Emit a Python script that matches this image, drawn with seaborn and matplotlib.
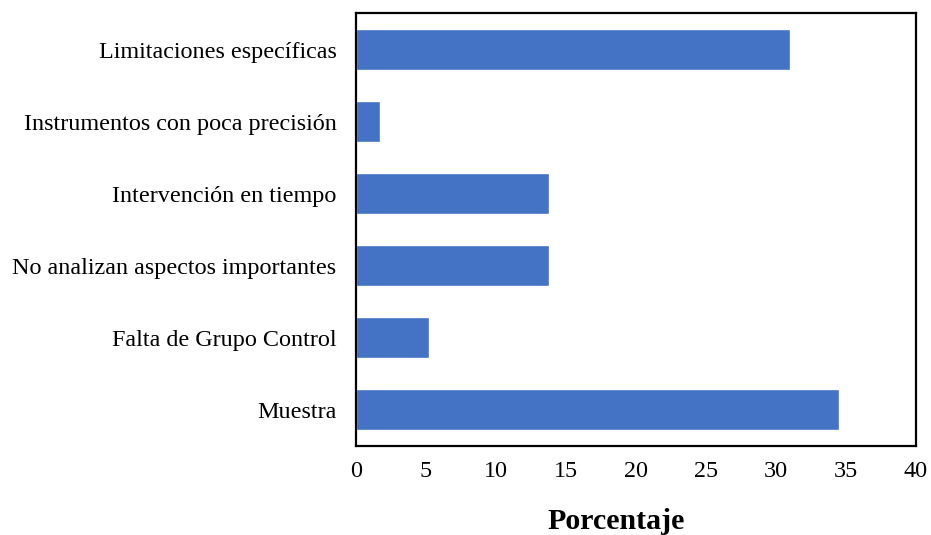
import matplotlib
matplotlib.use("Agg")
import matplotlib.pyplot as plt
import seaborn as sns
import pandas as pd

categorias = [
    "Limitaciones específicas",
    "Instrumentos con poca precisión",
    "Intervención en tiempo",
    "No analizan aspectos importantes",
    "Falta de Grupo Control",
    "Muestra",
]
porcentajes = [31.0, 1.7, 13.8, 13.8, 5.2, 34.5]
ticks_x = [0, 5, 10, 15, 20, 25, 30, 35, 40]

sns.set_theme(style="white")
plt.rcParams["font.family"] = ["Liberation Serif", "DejaVu Serif"]

df = pd.DataFrame({"categoria": categorias, "porcentaje": porcentajes})

fig = plt.figure(figsize=(9.31, 5.35), dpi=100)
ax = fig.add_axes([0.3824, 0.1664, 0.6015, 0.8084])

sns.barplot(data=df, x="porcentaje", y="categoria", orient="h",
            color="#4472C4", saturation=1, width=0.57, ax=ax)

ax.set_xlim(0, 40)
ax.set_ylim(5.5, -0.5)
ax.set_xticks(ticks_x)
ax.set_xticklabels([str(t) for t in ticks_x])
ax.tick_params(axis="both", length=0, labelsize=17.4, colors="black")
ax.tick_params(axis="x", pad=11)
ax.tick_params(axis="y", pad=14)
ax.set_ylabel("")
ax.set_xlabel("Porcentaje", fontsize=21.5, fontweight="bold", color="black")
ax.xaxis.set_label_coords(0.465, -0.144)
for s in ax.spines.values():
    s.set_visible(True)
    s.set_color("black")
    s.set_linewidth(1.6)

fig.savefig("out.png", dpi=100, facecolor="white")
